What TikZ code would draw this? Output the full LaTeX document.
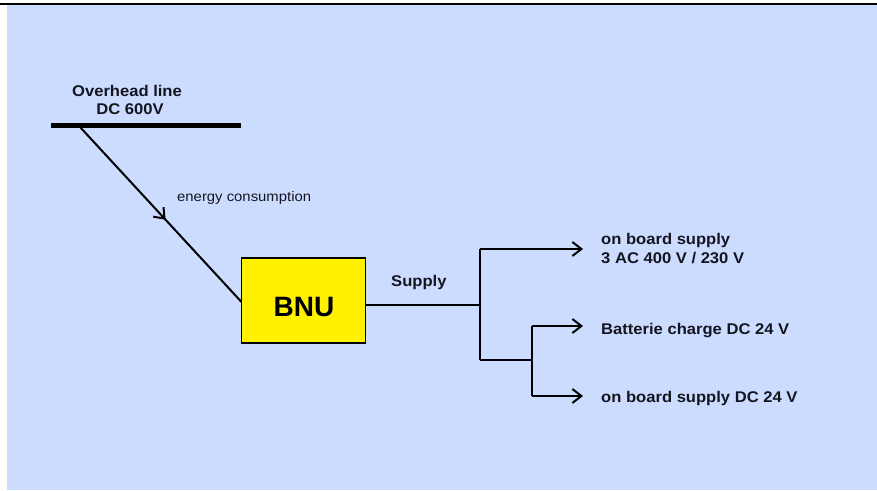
\documentclass[tikz,border=0pt]{standalone}
\usepackage{fontspec}
\setmainfont{Liberation Sans}
\usetikzlibrary{arrows.meta,decorations.markings}
\definecolor{bgblue}{HTML}{CCDCFF}
\definecolor{txt}{HTML}{151520}
\newfontfamily\lblfont[FakeStretch=1.07]{Liberation Sans}
\tikzset{
  wire/.style={line width=2pt,black},
  tip/.style={-{Straight Barb[length=9pt,width=14pt,line width=2pt]}},
  lbl/.style={font=\lblfont\fontsize{15.5}{18}\selectfont\bfseries, text=txt, inner sep=0pt},
  smalllbl/.style={font=\lblfont\fontsize{13.9}{16}\selectfont, text=txt, inner sep=0pt},
  boxstyle/.style={draw=black, line width=1.4pt, fill=yellow, minimum width=124pt, minimum height=85pt, inner sep=0pt}
}
\begin{document}
\begin{tikzpicture}[x=1pt,y=-1pt]
\useasboundingbox (0,0) rectangle (877,490);
\fill[white] (0,0) rectangle (877,490);
\fill[bgblue] (7,5) rectangle (877,490);
\draw[line width=2.4pt] (0,4) -- (877,4);

% overhead line
\coordinate (barL) at (51,125);
\coordinate (barR) at (241,125);
\draw[line width=5pt] (barL) -- (barR);
\node[lbl, anchor=base] (oh1) at (127,96) {Overhead line};
\node[lbl, anchor=base] (oh2) at (130,114) {DC 600V};
\coordinate (tap) at (80,127);

% BNU box
\node[boxstyle] (bnu) at (303.5,300.5) {};
\node[font=\fontsize{28}{32}\selectfont\bfseries, text=black, inner sep=0pt] (bnutxt) at (304,307) {BNU};

% energy consumption
\coordinate (bnuin) at (241.5,302);
\draw[wire, decoration={markings, mark=at position 0.53 with {\arrow{Straight Barb[length=9pt,width=14pt,line width=2pt]}}}, postaction={decorate}] (tap) -- (bnuin);
\node[smalllbl, anchor=base west] (ec) at (177,201) {energy consumption};

% supply
\coordinate (j1) at (480,305);
\coordinate (j1t) at (480,249);
\coordinate (j1b) at (480,360);
\coordinate (j2) at (532,360);
\coordinate (j2t) at (532,326);
\coordinate (j2b) at (532,396);
\coordinate (e1) at (583,249);
\coordinate (e2) at (583,326);
\coordinate (e3) at (583,396);
\draw[wire] (bnu.east |- j1) -- (j1);
\draw[wire] (j1t) -- (j1b);
\draw[wire, tip] (j1t) -- (e1);
\draw[wire] (j1b) -- (j2);
\draw[wire] (j2t) -- (j2b);
\draw[wire, tip] (j2t) -- (e2);
\draw[wire, tip] (j2b) -- (e3);
\node[lbl, anchor=base west] (sup) at (391,286) {Supply};

\node[lbl, anchor=base west] (t1a) at (601,244) {on board supply};
\node[lbl, anchor=base west] (t1b) at (601,263) {3 AC 400 V / 230 V};
\node[lbl, anchor=base west] (t2) at (601,334) {Batterie charge DC 24 V};
\node[lbl, anchor=base west] (t3) at (601,402) {on board supply DC 24 V};
\end{tikzpicture}
\end{document}
